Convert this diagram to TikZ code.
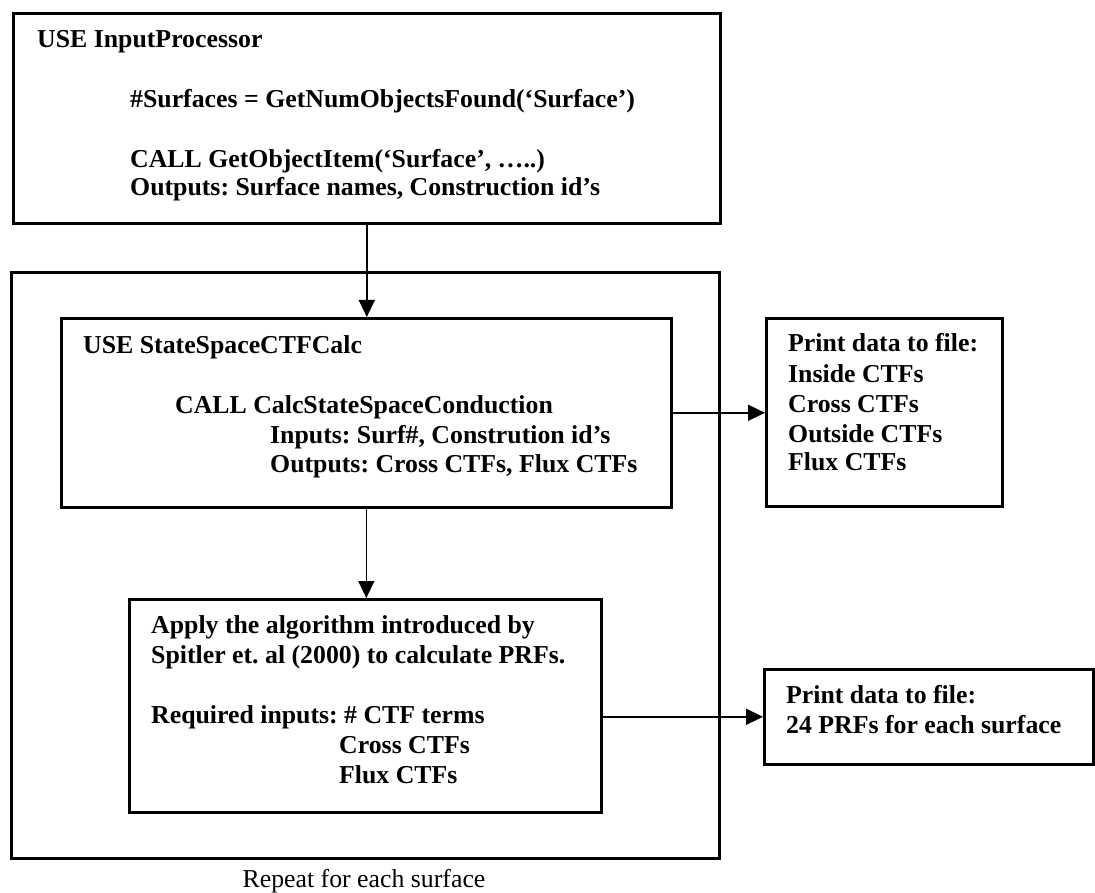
\documentclass[tikz,border=0pt]{standalone}
\usepackage{fontspec}
\setmainfont{Liberation Serif}
\usetikzlibrary{arrows.meta}
\frenchspacing
\begin{document}
\begin{tikzpicture}[x=1pt,y=-1pt,
  box/.style={draw, line width=2.6pt, rectangle, anchor=north west, inner sep=0pt},
  arr/.style={line width=1.5pt, -{Triangle[length=17pt,width=16pt]}},
  txt/.style={anchor=base west, inner sep=0pt, font=\bfseries\fontsize{25.8}{30}\selectfont},
  captxt/.style={anchor=base, inner sep=0pt, font=\fontsize{25.8}{30}\selectfont}]
\useasboundingbox (0,0) rectangle (1095,893);
% boxes
\node[box, minimum width=707pt, minimum height=210pt] (top) at (12,12) {};
\node[box, minimum width=708pt, minimum height=586pt] (outer) at (10,271) {};
\node[box, minimum width=610pt, minimum height=189pt] (mid) at (60,317) {};
\node[box, minimum width=472pt, minimum height=213pt] (bot) at (128,598) {};
\node[box, minimum width=236pt, minimum height=188pt] (p1) at (765,317) {};
\node[box, minimum width=329pt, minimum height=95pt] (p2) at (763,668) {};
% top box text
\node[txt] (t1) at (37,48) {USE InputProcessor};
\node[txt] (t2) at (130,108) {\#Surfaces = GetNumObjectsFound(‘Surface’)};
\node[txt] (t3) at (130,168) {CALL GetObjectItem(‘Surface’, …..)};
\node[txt] (t4) at (130,196) {Outputs: Surface names, Construction id’s};
% middle box text
\node[txt] (m1) at (83,353) {USE StateSpaceCTFCalc};
\node[txt] (m2) at (175,413) {CALL CalcStateSpaceConduction};
\node[txt] (m3) at (270,443) {Inputs: Surf\#, Constrution id’s};
\node[txt] (m4) at (270,472) {Outputs: Cross CTFs, Flux CTFs};
% bottom box text
\node[txt] (b1) at (151,633) {Apply the algorithm introduced by};
\node[txt] (b2) at (151,663) {Spitler et. al (2000) to calculate PRFs.};
\node[txt] (b3) at (151,723) {Required inputs: \# CTF terms};
\node[txt] (b4) at (339,753) {Cross CTFs};
\node[txt] (b5) at (339,783) {Flux CTFs};
% print box 1 text
\node[txt] (q1) at (788,352) {Print data to file:};
\node[txt] (q2) at (788,382) {Inside CTFs};
\node[txt] (q3) at (788,412) {Cross CTFs};
\node[txt] (q4) at (788,442) {Outside CTFs};
\node[txt] (q5) at (788,470) {Flux CTFs};
% print box 2 text
\node[txt] (r1) at (786,703) {Print data to file:};
\node[txt] (r2) at (786,733) {24 PRFs for each surface};
% caption
\node[captxt] (rep) at (364,887) {Repeat for each surface};
% connectors
\draw[arr] (top.south) -- (top.south |- mid.north);
\draw[arr] (mid.south) -- (mid.south |- bot.north);
\draw[arr] (mid.east) -- (mid.east -| p1.west);
\draw[arr] (p2.west -| bot.east) -- (p2.west);
\end{tikzpicture}
\end{document}
